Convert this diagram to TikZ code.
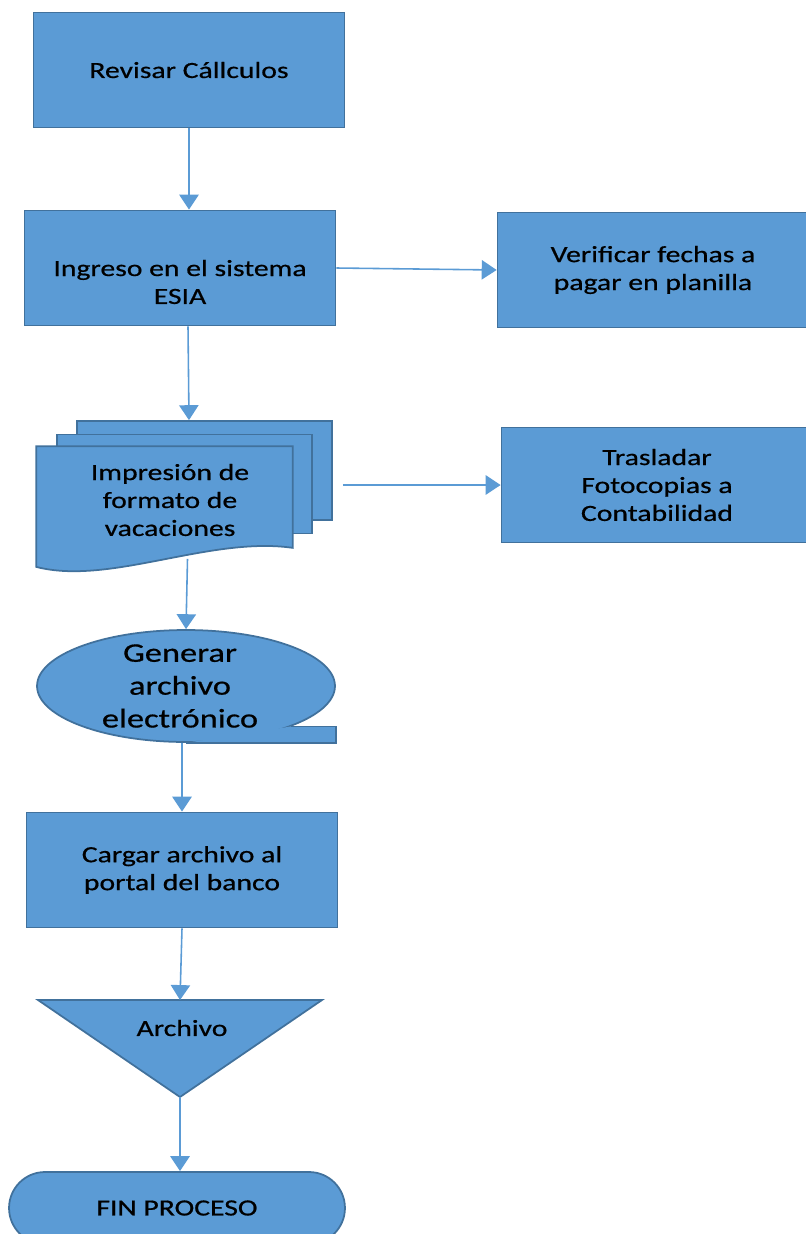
\documentclass[tikz,border=0pt]{standalone}
\usepackage{fontspec}
\setmainfont{Carlito}[FakeStretch=1.28,FakeBold=0.6]
\usetikzlibrary{calc,arrows.meta,shapes.geometric}
\definecolor{boxblue}{HTML}{5B9BD5}
\definecolor{boxedge}{HTML}{41719C}
\tikzset{
  procbox/.style  = {rectangle, draw=boxedge, fill=boxblue, line width=1pt,
                     minimum width=6.22cm, minimum height=2.3cm, inner sep=2pt,
                     align=center, font=\fontsize{13.2}{15.9}\selectfont},
  boxtext/.style  = {align=center, inner sep=0pt, font=\fontsize{13.2}{15.9}\selectfont},
  docsheet/.style = {rectangle, draw=boxedge, fill=boxblue, line width=1pt,
                     minimum width=5.1cm, minimum height=1.98cm, inner sep=0pt},
  docfill/.style  = {draw=boxedge, fill=boxblue, line width=1pt},
  tape/.style     = {ellipse, draw=boxedge, fill=boxblue, line width=1pt,
                     minimum width=5.96cm, minimum height=2.24cm, inner sep=0pt},
  flow/.style     = {-{Triangle[length=8.5pt,width=11pt]}, draw=boxblue, line width=0.9pt},
}

\begin{document}
\begin{tikzpicture}[x=0.02cm, y=-0.02cm]
\useasboundingbox (0,0) rectangle (805,1234);

\node[procbox] (rev) at (189,70) {Revisar Cállculos};
\node[procbox] (ing) at (180,268) {};
\node[boxtext] (ingtxt) at (180,282) {Ingreso en el sistema\\ESIA};
\node[procbox] (ver) at (653,270) {Verificar fechas a\\pagar en planilla};

\node[docsheet] (imp3) at (204.5,470.5) {};
\node[docsheet] (imp2) at (184.5,484) {};
\node[docsheet, draw=none, fill=none, minimum height=2.38cm] (impa) at (164.5,506.5) {};
\draw[docfill] (impa.north west) -- (impa.north east) -- ($(impa.south east)+(0,-19)$)
  .. controls ($(impa.south)+(45,-31)$) and ($(impa.south)+(-55,19)$) .. (impa.south west) -- cycle;
\node[boxtext] (imp) at (170,500) {Impresión de\\formato de\\vacaciones};
\node[procbox] (tras) at (657,485) {Trasladar\\Fotocopias a\\Contabilidad};

\node[tape] (gen) at (186,686) {};
\fill[boxblue] (gen.south) -- (gen.south -| gen.east) -- (gen.east |- gen.-21) -- (gen.-21) -- cycle;
\draw[boxedge, line width=1pt] (gen.-21) -- (gen.east |- gen.-21) -- (gen.south -| gen.east) -- (gen.south);
\node[boxtext, font=\fontsize{15.3}{18.7}\selectfont] (gentxt) at (180,686) {Generar\\archivo\\electrónico};

\node[procbox] (cargar) at (182,870) {Cargar archivo al\\portal del banco};

\coordinate (arcl) at (38,1000);
\coordinate (arcr) at (322,1000);
\coordinate (arcv) at (180,1097);
\coordinate (arct) at (180,1000);
\draw[docfill] (arcl) -- (arcr) -- (arcv) -- cycle;
\node[boxtext] (arc) at (182,1028) {Archivo};

\node[procbox, minimum width=6.72cm, minimum height=1.44cm, rounded corners=0.72cm] (fin) at (177,1208) {FIN PROCESO};

\draw[flow] (rev.south) -- (rev.south |- ing.north);
\draw[flow] (ing.east) -- (ver.west);
\draw[flow] ($(ing.south)+(8,0)$) -- ($(ing.south |- imp3.north)+(9,0)$);
\draw[flow] ($(imp3.east |- tras.west)+(10,0)$) -- (tras.west);
\draw[flow] ($(impa.south)+(23,-8)$) -- (gen.north);
\draw[flow] (cargar.north |- gen.south) -- (cargar.north);
\draw[flow] (cargar.south) -- (arct);
\draw[flow] (arcv) -- (arcv |- fin.north);
\end{tikzpicture}
\end{document}
